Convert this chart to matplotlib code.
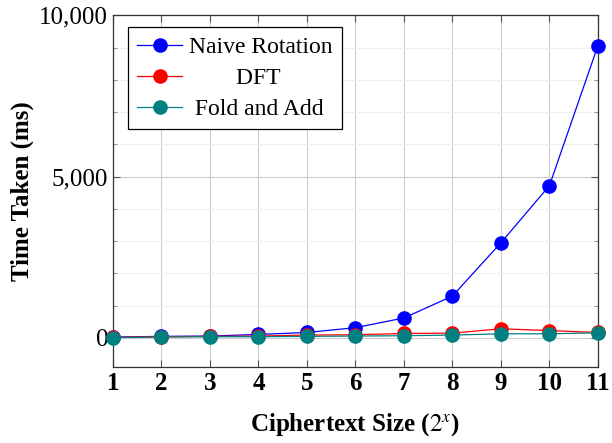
import matplotlib
matplotlib.use("Agg")
import matplotlib.pyplot as plt
from matplotlib.ticker import MultipleLocator, FuncFormatter

plt.rcParams['font.family'] = ['Liberation Serif', 'DejaVu Serif']
plt.rcParams['mathtext.fontset'] = 'stix'

# data (ms), ciphertext size 2^x
sizes = [1, 2, 3, 4, 5, 6, 7, 8, 9, 10, 11]
naive_rotation = [30, 50, 60, 110, 170, 320, 620, 1300, 2950, 4720, 9060]
dft = [20, 40, 50, 60, 90, 100, 140, 150, 285, 230, 170]
fold_add = [10, 30, 40, 40, 50, 60, 70, 90, 130, 130, 160]

fig = plt.figure(figsize=(6.12, 4.43), dpi=100)
ax = fig.add_axes([0.1846, 0.1715, 0.7924, 0.7945])

# legend labels padded so they look centred like pgfplots
series = [
    ("Naive Rotation", naive_rotation, (0, 0, 1)),
    ("        DFT", dft, (1, 0, 0)),
    (" Fold and Add", fold_add, (0, 0.5, 0.5)),
]
for name, vals, col in series:
    ax.plot(sizes, vals, color=col, marker='o', markersize=9.5, linewidth=0.9,
            label=name, clip_on=False, zorder=3)

ax.set_xlim(1, 11)
ax.set_ylim(-900, 10007)
ax.set_xticks(sizes)
ax.yaxis.set_major_locator(MultipleLocator(5000))
ax.yaxis.set_minor_locator(MultipleLocator(1000))
ax.yaxis.set_major_formatter(FuncFormatter(lambda v, p: f"{int(v):,}"))

ax.grid(True, which='major', color='#cccccc', linewidth=0.8)
ax.grid(True, which='minor', axis='y', color='#eeeeee', linewidth=0.8)
ax.set_axisbelow(True)

ax.tick_params(direction='in', which='both', top=True, right=True, labelsize=18)
ax.tick_params(which='major', length=5, color='#555555')
ax.tick_params(which='minor', length=3, color='#888888')
for lab in ax.get_xticklabels():
    lab.set_fontweight('bold')
for sp in ax.spines.values():
    sp.set_color('#333333')
    sp.set_linewidth(0.9)

ax.set_xlabel(r"Ciphertext Size ($2^x$)", fontsize=18, fontweight='bold', labelpad=12)
ax.set_ylabel("Time Taken (ms)", fontsize=18, fontweight='bold', labelpad=4)

leg = ax.legend(loc='upper left', fontsize=17, frameon=True, fancybox=False,
                edgecolor='black', framealpha=1, borderpad=0.4, labelspacing=0.4,
                handlelength=1.9, handletextpad=0.3, borderaxespad=0,
                bbox_to_anchor=(0.031, 0.966))
leg.get_frame().set_linewidth(0.9)

fig.savefig("out.png", dpi=100)
